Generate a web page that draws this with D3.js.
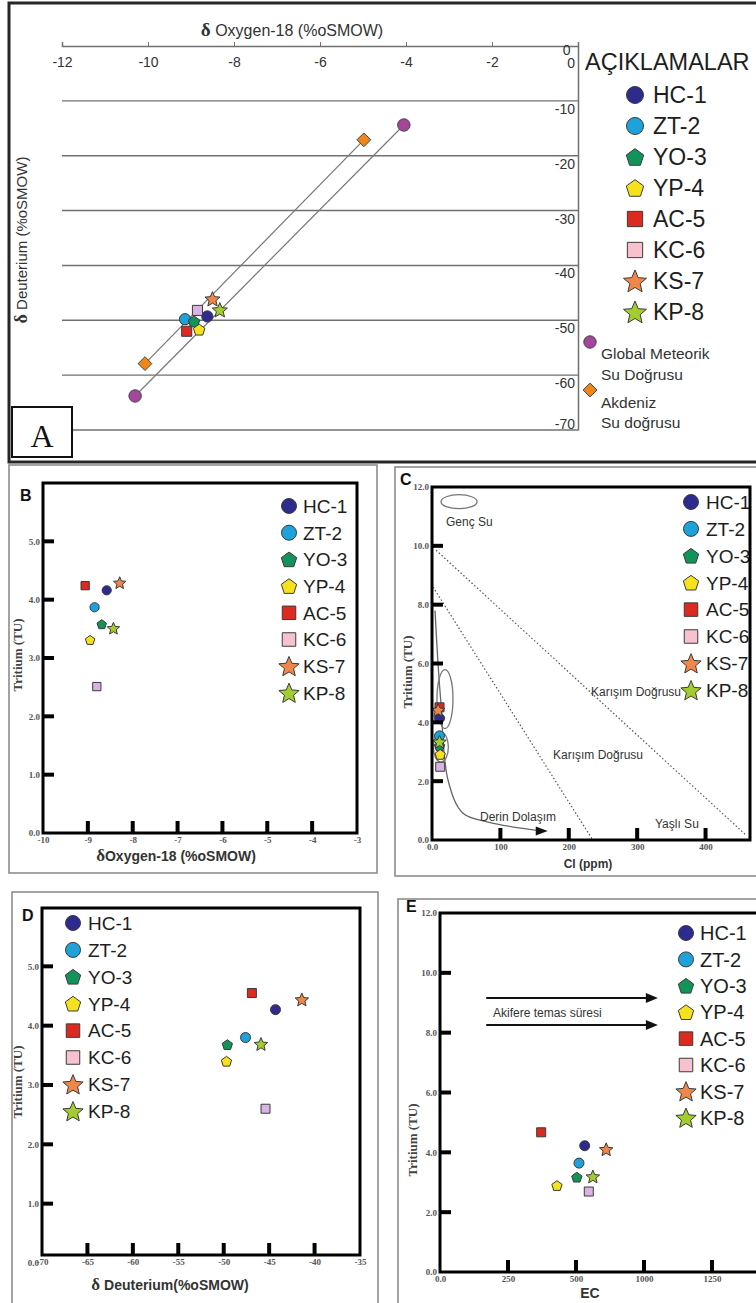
<!DOCTYPE html>
<html><head><meta charset="utf-8">
<script src="https://cdn.jsdelivr.net/npm/d3@7"></script>
<style>body{margin:0;background:#fff}svg{display:block}</style>
</head><body>
<script>
// ================= DATA =================
const samples = ["HC-1","ZT-2","YO-3","YP-4","AC-5","KC-6","KS-7","KP-8"];

// Panel A : δ18O vs δD
const o18A = [-8.62,-9.14,-8.93,-8.81,-9.10,-8.85,-8.50,-8.33];
const dDA  = [-49.3,-49.8,-50.2,-51.7,-52.0,-48.2,-46.1,-48.1];
const gmwlO18 = [-10.3,-4.05];
const gmwlD   = [-63.8,-14.4];
const medO18  = [-10.07,-4.98];
const medD    = [-57.9,-17.1];
const ticksAx = [-12,-10,-8,-6,-4,-2,0];
const ticksAy = [0,-10,-20,-30,-40,-50,-60,-70];

// Panel B : δ18O vs Tritium
const o18B  = [-8.58,-8.85,-8.69,-8.95,-9.06,-8.80,-8.29,-8.43];
const tritB = [4.16,3.87,3.58,3.31,4.24,2.51,4.29,3.51];
const ticksBx = [-10,-9,-8,-7,-6,-5,-4,-3];
const ticksBy = [0,1,2,3,4,5];

// Panel C : Cl vs Tritium
const clC   = [11,11,11,12,11,12,9,11];
const tritC = [4.14,3.54,3.20,2.91,4.51,2.49,4.42,3.34];
const ticksCx = [0,100,200,300,400];
const ticksCxLabels = ["0.0","100","200","300","400"];
const ticksCy = [0,2,4,6,8,10,12];
const mix1Cl = [6,459],  mix1T = [9.85,0.17];
const mix2Cl = [1.5,235], mix2T = [8.6,0];
const derinCl = [4.4,8.8,12.7,23.4,45,82,159];
const derinT  = [7.8,6.0,4.76,2.04,0.92,0.61,0.31];

// Panel D : δD vs Tritium
const dDD   = [-44.3,-47.6,-49.6,-49.7,-46.9,-45.4,-41.4,-45.9];
const tritD = [4.27,3.80,3.68,3.40,4.55,2.60,4.44,3.69];
const ticksDx = [-70,-65,-60,-55,-50,-45,-40,-35];
const ticksDy = [0,1,2,3,4,5];

// Panel E : EC vs Tritium
const ecE   = [532,511,503,430,372,547,611,562];
const tritE = [4.22,3.64,3.17,2.89,4.67,2.69,4.10,3.19];
const ticksEx = [0,250,500,750,1000];
const ticksExLabels = ["0.0","250","500","1000","1250"];
const ticksEy = [0,2,4,6,8,10,12];
const arrowEcE = [170,801];
const arrowTE  = [9.16,8.26];

// ================= STYLE =================
const style = {
  "HC-1": {shape:"circle",   fill:"#2e2b8f"},
  "ZT-2": {shape:"circle",   fill:"#1ea2da"},
  "YO-3": {shape:"pentagon", fill:"#12935a"},
  "YP-4": {shape:"pentagon", fill:"#f6e21c"},
  "AC-5": {shape:"square",   fill:"#dc2a20"},
  "KC-6": {shape:"square",   fill:"#f7c2cd", plotFill:"#d9b3e3"},
  "KS-7": {shape:"star",     fill:"#f0874a"},
  "KP-8": {shape:"star",     fill:"#a3cc2e"}
};
const SANS = "'Liberation Sans', Arial, sans-serif";
const SERIF = "'Liberation Serif', 'Times New Roman', serif";

function shapePath(shape, s){
  const poly = pts => "M" + pts.map(p => p[0].toFixed(2)+","+p[1].toFixed(2)).join("L") + "Z";
  switch(shape){
    case "circle": return `M${s},0A${s},${s} 0 1,1 ${-s},0A${s},${s} 0 1,1 ${s},0Z`;
    case "square": { const h = s*0.9; return `M${-h},${-h}H${h}V${h}H${-h}Z`; }
    case "diamond": { const h = s*1.15; return `M0,${-h}L${h},0L0,${h}L${-h},0Z`; }
    case "pentagon": { const r = s*1.08;
      return poly(d3.range(5).map(k => { const a = -Math.PI/2 + k*2*Math.PI/5; return [r*Math.cos(a), r*Math.sin(a)+s*0.1]; })); }
    case "star": { const R = s*1.42, r = R*0.45;
      return poly(d3.range(10).map(k => { const a = -Math.PI/2 + k*Math.PI/5; const rr = k%2 ? r : R; return [rr*Math.cos(a), rr*Math.sin(a)+s*0.12]; })); }
  }
}

const W = 756, H = 1303;
const svg = d3.select("body").append("svg").attr("width", W).attr("height", H).attr("font-family", SANS);

function legend(g, mx, tx, y0, step, s, fs){
  samples.forEach((name, i) => {
    const y = y0 + i*step;
    g.append("path").attr("d", shapePath(style[name].shape, s)).attr("transform", `translate(${mx},${y})`)
      .attr("fill", style[name].fill).attr("stroke", "#3a3a3a").attr("stroke-width", 1);
    g.append("text").attr("x", tx).attr("y", y).attr("dy", "0.36em").attr("font-size", fs).attr("fill", "#1e1e1e").text(name);
  });
}

function points(g, x, y, xs, ys, s){
  samples.forEach((name, i) => {
    const st = style[name];
    g.append("path").attr("d", shapePath(st.shape, s)).attr("transform", `translate(${x(xs[i])},${y(ys[i])})`)
      .attr("fill", st.plotFill || st.fill).attr("stroke", "#3a3a3a").attr("stroke-width", 1);
  });
}

// ================= PANEL A =================
(function(){
  const g = svg.append("g");
  const x = d3.scaleLinear().domain([-12,0]).range([62,578]);
  const y = d3.scaleLinear().domain([-70,0]).range([430,46]);

  g.append("rect").attr("x",9).attr("y",3).attr("width",790).attr("height",459)
    .attr("fill","none").attr("stroke","#262626").attr("stroke-width",3);

  g.selectAll("line.grid").data(ticksAy.filter(d => d !== 0)).join("line")
    .attr("x1", x(-12)).attr("x2", x(0)).attr("y1", d => y(d)).attr("y2", d => y(d))
    .attr("stroke","#707070").attr("stroke-width",1.4);

  const gx = g.append("g").attr("transform", `translate(0,${y(0)})`)
    .call(d3.axisTop(x).tickValues(ticksAx).tickSize(4).tickFormat(d => String(d)));
  gx.attr("font-size",14).attr("font-family",SANS);
  gx.select(".domain").attr("stroke","#707070").attr("stroke-width",1.5);
  gx.selectAll(".tick line").attr("stroke","#707070");
  gx.selectAll(".tick text").attr("fill","#333").attr("y",11).attr("dy","0.71em");
  gx.selectAll(".tick").filter(d => d === 0).select("text").attr("text-anchor","end").attr("x",-8).attr("y",-1);

  const gy = g.append("g").attr("transform", `translate(${x(0)},0)`)
    .call(d3.axisLeft(y).tickValues(ticksAy).tickSize(0).tickPadding(3).tickFormat(d => String(d)));
  gy.attr("font-size",14).attr("font-family",SANS);
  gy.select(".domain").attr("stroke","#707070").attr("stroke-width",1.5);
  gy.selectAll(".tick text").attr("fill","#333").attr("y", d => d === -70 ? -6 : (d === 0 ? 17 : 8));

  // water lines
  g.append("line").attr("x1",x(gmwlO18[0])).attr("y1",y(gmwlD[0])).attr("x2",x(gmwlO18[1])).attr("y2",y(gmwlD[1]))
    .attr("stroke","#777").attr("stroke-width",1.2);
  g.append("line").attr("x1",x(medO18[0])).attr("y1",y(medD[0])).attr("x2",x(medO18[1])).attr("y2",y(medD[1]))
    .attr("stroke","#777").attr("stroke-width",1.2);
  gmwlO18.forEach((v,i) => g.append("path").attr("d", shapePath("circle",6.2)).attr("transform",`translate(${x(v)},${y(gmwlD[i])})`)
    .attr("fill","#a4479c").attr("stroke","#444").attr("stroke-width",1));
  medO18.forEach((v,i) => g.append("path").attr("d", shapePath("diamond",6)).attr("transform",`translate(${x(v)},${y(medD[i])})`)
    .attr("fill","#f0861a").attr("stroke","#444").attr("stroke-width",1));

  points(g, x, y, o18A, dDA, 5.6);

  // titles
  const t = g.append("text").attr("x",292).attr("y",36).attr("text-anchor","middle").attr("font-size",16).attr("fill","#333");
  t.append("tspan").attr("font-family",SERIF).attr("font-weight","bold").attr("font-size",19).text("δ");
  t.append("tspan").text(" Oxygen-18 (%oSMOW)");
  const ty = g.append("text").attr("transform","translate(27,240) rotate(-90)").attr("text-anchor","middle").attr("font-size",15).attr("fill","#333");
  ty.append("tspan").attr("font-family",SERIF).attr("font-weight","bold").attr("font-size",18).text("δ");
  ty.append("tspan").text(" Deuterium (%oSMOW)");

  // A box
  g.append("rect").attr("x",12).attr("y",407).attr("width",60).attr("height",50).attr("fill","#fff").attr("stroke","#111").attr("stroke-width",2);
  g.append("text").attr("x",42).attr("y",447).attr("text-anchor","middle").attr("font-family",SERIF).attr("font-size",32).attr("fill","#111").text("A");

  // legend
  g.append("text").attr("x",585).attr("y",70).attr("font-size",23.5).attr("fill","#1e1e1e").text("AÇIKLAMALAR");
  legend(g, 635, 653, 95, 31, 8.5, 23);
  g.append("path").attr("d", shapePath("circle",6.2)).attr("transform","translate(590,342)").attr("fill","#a4479c").attr("stroke","#444");
  g.append("text").attr("x",601).attr("y",359).attr("font-size",15.5).attr("fill","#333").text("Global Meteorik");
  g.append("text").attr("x",601).attr("y",380).attr("font-size",15.5).attr("fill","#333").text("Su Doğrusu");
  g.append("path").attr("d", shapePath("diamond",6)).attr("transform","translate(590,390)").attr("fill","#f0861a").attr("stroke","#444");
  g.append("text").attr("x",601).attr("y",408).attr("font-size",15.5).attr("fill","#333").text("Akdeniz");
  g.append("text").attr("x",601).attr("y",428).attr("font-size",15.5).attr("fill","#333").text("Su doğrusu");
})();

// ================= GENERIC PANEL (B-E) =================
function panel(o){
  const g = svg.append("g");
  const fr = o.frame;
  g.append("rect").attr("x",o.outer[0]).attr("y",o.outer[1]).attr("width",o.outer[2]).attr("height",o.outer[3])
    .attr("fill","none").attr("stroke","#8c8c8c").attr("stroke-width",1.6);
  const clipId = "clip" + o.id;
  g.append("clipPath").attr("id",clipId).append("rect").attr("x",fr.l).attr("y",fr.t).attr("width",fr.r-fr.l).attr("height",fr.b-fr.t);
  const inner = g.append("g").attr("clip-path",`url(#${clipId})`);
  if (o.extras) o.extras(inner, g);

  const lab = d => o.xLabels ? o.xLabels[o.xTicks.indexOf(d)] : String(d);
  const gx = g.append("g").attr("transform",`translate(0,${fr.b})`)
    .call(d3.axisBottom(o.x).tickValues(o.xTicks).tickFormat(lab).tickSize(0).tickPadding(4));
  gx.select(".domain").remove();
  gx.attr("font-family",SERIF).attr("font-weight","bold").attr("font-size",9);
  gx.selectAll(".tick text").attr("fill","#555");

  const gy = g.append("g").attr("transform",`translate(${fr.l},0)`)
    .call(d3.axisLeft(o.y).tickValues(o.yTicks).tickFormat(d => d.toFixed(1)).tickSize(0).tickPadding(3));
  gy.select(".domain").remove();
  gy.attr("font-family",SERIF).attr("font-weight","bold").attr("font-size",9);
  gy.selectAll(".tick text").attr("fill","#555");

  points(inner, o.x, o.y, o.xs, o.ys, o.ms);
  legend(g, o.leg[0], o.leg[1], o.leg[2], o.leg[3], 7.5, o.leg[4]);

  // frame
  g.append("rect").attr("x",fr.l).attr("y",fr.t).attr("width",fr.r-fr.l).attr("height",fr.b-fr.t)
    .attr("fill","none").attr("stroke","#000").attr("stroke-width",3);
  // inward tick marks, as filled polygons
  const xIn = o.xTicks.filter(d => o.x(d) > fr.l + 2 && o.x(d) < fr.r - 2);
  const yIn = o.yTicks.filter(d => o.y(d) > fr.t + 2 && o.y(d) < fr.b - 2);
  const tickG = g.append("g");
  xIn.forEach(d => {
    const px = o.x(d);
    tickG.append("path").attr("d", `M${px-2},${fr.b}L${px+2},${fr.b}L${px+2},${fr.b-12}L${px-2},${fr.b-12}Z`).attr("fill","#000");
  });
  yIn.forEach(d => {
    const py = o.y(d);
    tickG.append("path").attr("d", `M${fr.l},${py-2}L${fr.l+11},${py-2}L${fr.l+11},${py+2}L${fr.l},${py+2}Z`).attr("fill","#000");
  });

  g.append("text").attr("x",o.letter[0]).attr("y",o.letter[1]).attr("font-weight","bold").attr("font-size",16).attr("fill","#111").text(o.letter[2]);
  g.append("text").attr("transform",`translate(${o.yTitle[0]},${o.yTitle[1]}) rotate(-90)`).attr("text-anchor","middle")
    .attr("font-family",SERIF).attr("font-weight","bold").attr("font-size",13).attr("fill","#444").text("Tritium (TU)");
  const xtitle = g.append("text").attr("x",o.xTitle[0]).attr("y",o.xTitle[1]).attr("text-anchor","middle")
    .attr("font-weight","bold").attr("font-size",o.xTitle[3]).attr("fill","#333");
  if (o.xTitle[4]) xtitle.append("tspan").attr("font-family",SERIF).attr("font-size",o.xTitle[3]+3).text(o.xTitle[4]);
  xtitle.append("tspan").text(o.xTitle[2]);
  return g;
}

// ================= PANEL B =================
panel({
  id:"B", outer:[9,465,368,408], frame:{l:43,t:483,r:357,b:833},
  x: d3.scaleLinear().domain([-10,-3]).range([43,357]),
  y: d3.scaleLinear().domain([0,6]).range([833,483]),
  xTicks: ticksBx, yTicks: ticksBy, xs: o18B, ys: tritB, ms: 4.6,
  leg:[289,303,506,26.7,19], letter:[20,501,"B"], yTitle:[22,655],
  xTitle:[176,861,"Oxygen-18 (%oSMOW)",14,"δ"]
});

// ================= PANEL C =================
const xCscale = d3.scaleLinear().domain([0,465]).range([432,750]);
const yCscale = d3.scaleLinear().domain([0,12]).range([840,487]);
panel({
  id:"C", outer:[395,467,380,409], frame:{l:432,t:487,r:750,b:840},
  x: xCscale, y: yCscale,
  xTicks: ticksCx, xLabels: ticksCxLabels, yTicks: ticksCy, xs: clC, ys: tritC, ms: 5,
  leg:[691,706,502,26.9,19], letter:[400,485,"C"], yTitle:[412,672],
  xTitle:[588,868,"Cl (ppm)",12],
  extras: function(inner, g){
    const x = xCscale, y = yCscale;
    [[mix1Cl,mix1T],[mix2Cl,mix2T]].forEach(([cs,ts]) => {
      inner.append("line").attr("x1",x(cs[0])).attr("y1",y(ts[0])).attr("x2",x(cs[1])).attr("y2",y(ts[1]))
        .attr("stroke","#555").attr("stroke-width",1.2).attr("stroke-dasharray","1.5,2.2");
    });
    const line = d3.line().x((d,i) => x(derinCl[i])).y((d,i) => y(derinT[i])).curve(d3.curveCatmullRom.alpha(0.5));
    const endX = x(derinCl[derinCl.length-1]), endY = y(derinT[derinT.length-1]);
    inner.append("path").attr("d", line(derinCl)).attr("fill","none").attr("stroke","#666").attr("stroke-width",1.3);
    inner.append("path").attr("d",`M${endX+7},${endY}L${endX-5},${endY-4.5}L${endX-5},${endY+4.5}Z`).attr("fill","#111");
    inner.append("ellipse").attr("cx",x(39.5)).attr("cy",y(11.5)).attr("rx",18).attr("ry",7).attr("fill","none").attr("stroke","#777").attr("stroke-width",1.3);
    inner.append("ellipse").attr("cx",x(19)).attr("cy",y(4.79)).attr("rx",8).attr("ry",29.5).attr("fill","none").attr("stroke","#777").attr("stroke-width",1.3);
    inner.append("ellipse").attr("cx",x(13)).attr("cy",y(3.16)).attr("rx",7.5).attr("ry",15).attr("fill","none").attr("stroke","#777").attr("stroke-width",1.3);
    const txt = (tx,ty,s) => g.append("text").attr("x",tx).attr("y",ty).attr("font-size",12).attr("fill","#333").text(s);
    txt(446,526,"Genç Su");
    txt(591,696,"Karışım Doğrusu");
    txt(553,759,"Karışım Doğrusu");
    txt(480,821,"Derin Dolaşım");
    txt(655,828,"Yaşlı Su");
  }
});

// ================= PANEL D =================
panel({
  id:"D", outer:[12,892,366,430], frame:{l:42,t:908,r:360,b:1255},
  x: d3.scaleLinear().domain([-70,-35]).range([42,360]),
  y: d3.scaleLinear().domain([0,6]).range([1263,907]),
  xTicks: ticksDx, yTicks: ticksDy, xs: dDD, ys: tritD, ms: 5,
  leg:[73,88,923,26.9,19], letter:[22,921,"D"], yTitle:[22,1082],
  xTitle:[170,1290," Deuterium(%oSMOW)",14,"δ"]
});

// ================= PANEL E =================
const xEscale = d3.scaleLinear().domain([0,1000]).range([440,712]);
const yEscale = d3.scaleLinear().domain([0,12]).range([1272,913]);
panel({
  id:"E", outer:[398,899,380,430], frame:{l:440,t:913,r:800,b:1272},
  x: xEscale, y: yEscale,
  xTicks: ticksEx, xLabels: ticksExLabels, yTicks: ticksEy, xs: ecE, ys: tritE, ms: 5,
  leg:[686,700,933,26.4,20], letter:[406,912,"E"], yTitle:[417,1140],
  xTitle:[590,1298,"EC",14],
  extras: function(inner, g){
    const x = xEscale, y = yEscale;
    arrowTE.forEach(tv => {
      const x1 = x(arrowEcE[0]), x2 = x(arrowEcE[1]), yy = y(tv);
      inner.append("line").attr("x1",x1).attr("x2",x2-8).attr("y1",yy).attr("y2",yy).attr("stroke","#111").attr("stroke-width",2);
      inner.append("path").attr("d",`M${x2},${yy}L${x2-12},${yy-5}L${x2-12},${yy+5}Z`).attr("fill","#111");
    });
    g.append("text").attr("x",493).attr("y",1017).attr("font-size",12).attr("fill","#333").text("Akifere temas süresi");
  }
});
</script>
</body></html>
